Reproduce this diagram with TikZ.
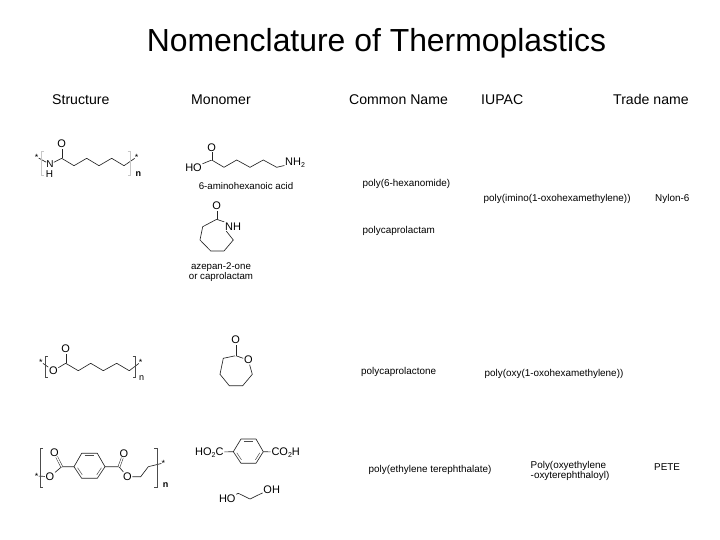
\documentclass[tikz,border=0pt]{standalone}
\usepackage{fontspec}
\setmainfont{Liberation Sans}
\usetikzlibrary{calc}
\newcommand{\lowtwo}{\raisebox{-.3ex}{\fontsize{7}{7}\selectfont 2}}
\tikzset{
  titletext/.style={font=\fontsize{31.9}{34}\selectfont,inner sep=0pt},
  headtext/.style={font=\fontsize{14.1}{16}\selectfont,inner sep=0pt,anchor=base west},
  nametext/.style={font=\fontsize{9.9}{11}\selectfont,inner sep=0pt,anchor=west},
  captext/.style={font=\fontsize{9.7}{11}\selectfont,inner sep=0pt},
  atom/.style={font=\fontsize{11}{12}\selectfont,inner sep=0.6pt},
  smallatom/.style={font=\fontsize{10}{10}\selectfont,inner sep=0pt},
  star/.style={font=\fontsize{9}{9}\selectfont,inner sep=0pt},
  bond/.style={line width=0.65pt,black!85,line join=round},
  dbond/.style={line width=0.5pt,black!85,double,double distance=1.4pt},
  brk/.style={line width=0.6pt,black!70},
  faintbrk/.style={line width=0.6pt,black!22},
  inner/.style={line width=0.5pt,black!70,shorten >=1.5pt,shorten <=1.5pt}
}
\begin{document}
\begin{tikzpicture}[x=1pt,y=-1pt]
\useasboundingbox (0,0) rectangle (720,540);
\fill[white] (0,0) rectangle (720,540);
% titles
\node[titletext] (title) at (376.5,43.5) {Nomenclature of Thermoplastics};
\node[headtext] (h1) at (52,104.5) {Structure};
\node[headtext] (h2) at (191,104.5) {Monomer};
\node[headtext] (h3) at (349,104.5) {Common Name};
\node[headtext] (h4) at (481,104.5) {IUPAC};
\node[headtext] (h5) at (613,104.5) {Trade name};
% names
\node[nametext] (n1) at (362.5,184) {poly(6-hexanomide)};
\node[nametext] (n2) at (483.5,198.5) {poly(imino(1-oxohexamethylene))};
\node[nametext] (n3) at (655,198.5) {Nylon-6};
\node[nametext] (n4) at (362.5,231) {polycaprolactam};
\node[nametext] (n5) at (361,372) {polycaprolactone};
\node[nametext] (n6) at (484.5,373.5) {poly(oxy(1-oxohexamethylene))};
\node[nametext] (n7) at (368.5,469.5) {poly(ethylene terephthalate)};
\node[nametext] (n8) at (530.5,465.5) {Poly(oxyethylene};
\node[nametext] (n9) at (530.5,476) {-oxyterephthaloyl)};
\node[nametext] (n10) at (654,467.5) {PETE};
% captions
\node[captext] (c1) at (246,186) {6-aminohexanoic acid};
\node[captext] (c2) at (221,267.3) {azepan-2-one};
\node[captext] (c3) at (221,277) {or caprolactam};

% structure 1: nylon-6
\node[star] (s1a) at (36.7,157) {*};
\node[smallatom] (s1N) at (50,164.3) {N};
\node[smallatom] (s1H) at (49.5,174.3) {H};
\node[atom] (s1O) at (61.7,144) {O};
\coordinate (s1c1) at (61.7,158.3);
\coordinate (s1c2) at (74,165.7);
\coordinate (s1c3) at (86.7,158.3);
\coordinate (s1c4) at (99,165.7);
\coordinate (s1c5) at (111.7,158.3);
\coordinate (s1c6) at (124,165.7);
\node[star] (s1b) at (136.7,157) {*};
\node[atom,font=\fontsize{9}{9}\selectfont\bfseries] (s1n) at (138.3,174) {n};
\draw[bond] (s1a) -- (s1N) -- (s1c1) -- (s1c2) -- (s1c3) -- (s1c4) -- (s1c5) -- (s1c6) -- (s1b);
\draw[dbond] (s1c1) -- (s1O);
\draw[faintbrk] (44,151) -- (41.5,151) -- (41.5,175) -- (44,175);
\draw[faintbrk] (127.5,151) -- (130,151) -- (130,175) -- (127.5,175);

% monomer 1: 6-aminohexanoic acid
\node[atom] (m1HO) at (193.5,167.5) {HO};
\node[atom] (m1O) at (211.7,147.5) {O};
\node[atom] (m1N) at (295,163) {NH\lowtwo};
\coordinate (m1c1) at (211.7,160);
\coordinate (m1c2) at (224,167.3);
\coordinate (m1c3) at (236.7,160);
\coordinate (m1c4) at (250,167.3);
\coordinate (m1c5) at (263.3,160);
\coordinate (m1c6) at (276.7,167.3);
\draw[bond] (m1HO) -- (m1c1) -- (m1c2) -- (m1c3) -- (m1c4) -- (m1c5) -- (m1c6) -- (m1N);
\draw[dbond] (m1c1) -- (m1O);

% monomer 2: caprolactam
\node[atom] (m2O) at (216.7,206) {O};
\node[atom] (m2N) at (233,226.5) {NH};
\coordinate (m2c1) at (216.7,219.3);
\coordinate (m2c2) at (202.7,226.7);
\coordinate (m2c3) at (200,240);
\coordinate (m2c4) at (210.7,251);
\coordinate (m2c5) at (224,251);
\coordinate (m2c6) at (233.3,240);
\draw[bond] (m2N.south west) ++(2,0) -- (m2c6) -- (m2c5) -- (m2c4) -- (m2c3) -- (m2c2) -- (m2c1) -- (m2N.north west);
\draw[dbond] (m2c1) -- (m2O);

% structure 2: polycaprolactone
\node[star] (s2a) at (41,362) {*};
\node[atom] (s2O1) at (53.3,370.7) {O};
\node[atom] (s2O2) at (65.7,349) {O};
\coordinate (s2c1) at (65.7,363.3);
\coordinate (s2c2) at (78.3,370.7);
\coordinate (s2c3) at (90.7,363.3);
\coordinate (s2c4) at (103.3,370.7);
\coordinate (s2c5) at (116.7,363.3);
\coordinate (s2c6) at (129.3,370.7);
\node[star] (s2b) at (140.7,362) {*};
\node[atom,font=\fontsize{9}{9}\selectfont] (s2n) at (141.7,378.5) {n};
\draw[bond] (s2a) -- (s2O1) -- (s2c1) -- (s2c2) -- (s2c3) -- (s2c4) -- (s2c5) -- (s2c6) -- (s2b);
\draw[dbond] (s2c1) -- (s2O2);
\draw[brk] (47.5,356.7) -- (45,356.7) -- (45,377.3) -- (47.5,377.3);
\draw[brk] (132.5,356.7) -- (135,356.7) -- (135,377.3) -- (132.5,377.3);

% monomer 3: caprolactone
\node[atom] (m3O1) at (235.7,340) {O};
\node[atom] (m3O2) at (248.3,360) {O};
\coordinate (m3c1) at (235.7,355.7);
\coordinate (m3c2) at (223.3,358.3);
\coordinate (m3c3) at (220,374.3);
\coordinate (m3c4) at (229.3,385.7);
\coordinate (m3c5) at (242.7,385.7);
\coordinate (m3c6) at (252.3,374.3);
\draw[bond] (m3O2) -- (m3c6) -- (m3c5) -- (m3c4) -- (m3c3) -- (m3c2) -- (m3c1) -- (m3O2);
\draw[dbond] (m3c1) -- (m3O1);

% structure 3: PET
\node[star] (s3a) at (36.7,476) {*};
\node[atom] (s3O1) at (50,476.7) {O};
\node[atom] (s3O2) at (54.3,452.3) {O};
\node[atom] (s3O3) at (124,453.3) {O};
\node[atom] (s3O4) at (127.3,476.7) {O};
\coordinate (s3c1) at (61.7,466.7);
\coordinate (s3r1) at (74,466.7);
\coordinate (s3r2) at (81.7,453.3);
\coordinate (s3r3) at (97.3,453.3);
\coordinate (s3r4) at (105,466.7);
\coordinate (s3r5) at (97.3,478.3);
\coordinate (s3r6) at (81.7,478.3);
\coordinate (s3rc) at (89.5,466);
\coordinate (s3c2) at (119,466.7);
\coordinate (s3c3) at (140.7,476.7);
\coordinate (s3c4) at (148.3,466.7);
\node[star] (s3b) at (163.3,463) {*};
\node[atom,font=\fontsize{9}{9}\selectfont\bfseries] (s3n) at (165.7,485) {n};
\draw[bond] (s3a) -- (s3O1) -- (s3c1) -- (s3r1) -- (s3r2) -- (s3r3) -- (s3r4) -- (s3r5) -- (s3r6) -- (s3r1);
\draw[bond] (s3r4) -- (s3c2) -- (s3O4) -- (s3c3) -- (s3c4) -- (s3b);
\draw[dbond] (s3c1) -- (s3O2);
\draw[dbond] (s3c2) -- (s3O3);
\draw[inner] ($(s3r2)!.18!(s3rc)$) -- ($(s3r3)!.18!(s3rc)$);
\draw[inner] ($(s3r4)!.18!(s3rc)$) -- ($(s3r5)!.18!(s3rc)$);
\draw[inner] ($(s3r6)!.18!(s3rc)$) -- ($(s3r1)!.18!(s3rc)$);
\draw[brk] (43,448.3) -- (40,448.3) -- (40,487.7) -- (43,487.7);
\draw[brk] (154.3,448.3) -- (157.3,448.3) -- (157.3,487.7) -- (154.3,487.7);

% monomer 4: terephthalic acid
\node[atom] (m4L) at (209.3,452.3) {HO\lowtwo C};
\node[atom] (m4R) at (285.7,452.3) {CO\lowtwo H};
\coordinate (m4r1) at (233.3,451.7);
\coordinate (m4r2) at (241,439);
\coordinate (m4r3) at (256,439);
\coordinate (m4r4) at (263.3,451.7);
\coordinate (m4r5) at (256,463.3);
\coordinate (m4r6) at (241,463.3);
\coordinate (m4rc) at (248.3,451);
\draw[bond] (m4L) -- (m4r1) -- (m4r2) -- (m4r3) -- (m4r4) -- (m4r5) -- (m4r6) -- (m4r1);
\draw[bond] (m4r4) -- (m4R);
\draw[inner] ($(m4r2)!.18!(m4rc)$) -- ($(m4r3)!.18!(m4rc)$);
\draw[inner] ($(m4r4)!.18!(m4rc)$) -- ($(m4r5)!.18!(m4rc)$);
\draw[inner] ($(m4r6)!.18!(m4rc)$) -- ($(m4r1)!.18!(m4rc)$);

% monomer 5: ethylene glycol
\node[atom] (m5L) at (227.3,498.5) {HO};
\node[atom] (m5R) at (271.7,490) {OH};
\coordinate (m5c1) at (238.3,493.3);
\coordinate (m5c2) at (250,499);
\coordinate (m5c3) at (261.7,493.3);
\draw[bond] (m5L) -- (m5c1) -- (m5c2) -- (m5c3) -- (m5R);
\end{tikzpicture}
\end{document}
